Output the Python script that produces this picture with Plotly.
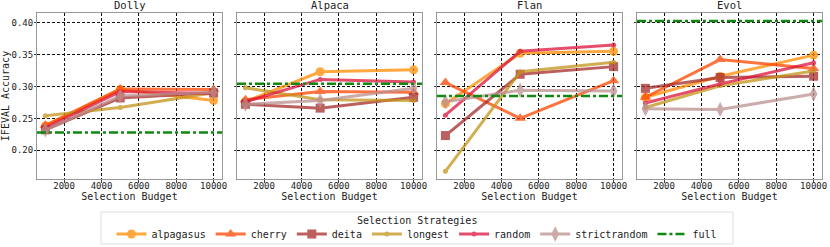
import plotly.graph_objects as go
from plotly.subplots import make_subplots

datasets = ["Dolly", "Alpaca", "Flan", "Evol"]
budgets = [1000, 5000, 10000]
xtick_vals = [2000, 4000, 6000, 8000, 10000]
xtick_text = ["2000", "4000", "6000", "8000", "10000"]
ytick_vals = [0.20, 0.25, 0.30, 0.35, 0.40]

strategies = ["alpagasus", "cherry", "deita", "longest", "random", "strictrandom"]

alpagasus = {"Dolly": [0.238, 0.295, 0.278], "Alpaca": [0.276, 0.323, 0.326],
             "Flan": [0.273, 0.352, 0.355], "Evol": [0.283, 0.316, 0.349]}
cherry = {"Dolly": [0.239, 0.296, 0.295], "Alpaca": [0.279, 0.292, 0.291],
          "Flan": [0.306, 0.250, 0.309], "Evol": [0.283, 0.342, 0.328]}
deita = {"Dolly": [0.232, 0.282, 0.290], "Alpaca": [0.272, 0.266, 0.283],
         "Flan": [0.223, 0.319, 0.331], "Evol": [0.297, 0.314, 0.316]}
longest = {"Dolly": [0.254, 0.267, 0.290], "Alpaca": [0.298, 0.279, 0.278],
           "Flan": [0.167, 0.323, 0.338], "Evol": [0.267, 0.301, 0.324]}
random_ = {"Dolly": [0.235, 0.292, 0.289], "Alpaca": [0.276, 0.311, 0.307],
           "Flan": [0.255, 0.355, 0.365], "Evol": [0.274, 0.304, 0.337]}
strictrandom = {"Dolly": [0.232, 0.285, 0.291], "Alpaca": [0.272, 0.278, 0.297],
                "Flan": [0.276, 0.294, 0.293], "Evol": [0.265, 0.264, 0.288]}
full = {"Dolly": 0.228, "Alpaca": 0.304, "Flan": 0.285, "Evol": 0.4025}

series = {"alpagasus": alpagasus, "cherry": cherry, "deita": deita,
          "longest": longest, "random": random_, "strictrandom": strictrandom}

colors = {"alpagasus": "#FF8C00", "cherry": "#FF4500", "deita": "#A52A2A",
          "longest": "#C4931A", "random": "#DC143C", "strictrandom": "#BC8F8F"}
symbols = {"alpagasus": "circle", "cherry": "triangle-up", "deita": "square",
           "longest": "circle", "random": "circle", "strictrandom": "diamond-tall"}
msizes = {"alpagasus": 9, "cherry": 10, "deita": 9, "longest": 5, "random": 5,
          "strictrandom": 11}

FONT = "DejaVu Sans Mono"
X0, X1 = 550, 10450
GRIDDASH = "3px,2px"

fig = make_subplots(rows=1, cols=4, shared_yaxes=True,
                    horizontal_spacing=15 / 785, subplot_titles=datasets)

for ci, ds in enumerate(datasets, start=1):
    for s in strategies:
        fig.add_trace(go.Scatter(
            x=budgets, y=series[s][ds], mode="lines+markers", name=s,
            legendgroup=s, showlegend=(ci == 1), opacity=0.75,
            line=dict(color=colors[s], width=3),
            marker=dict(symbol=symbols[s], size=msizes[s], color=colors[s]),
        ), row=1, col=ci)
    fig.add_trace(go.Scatter(
        x=[X0, X1], y=[full[ds], full[ds]], mode="lines", name="full",
        legendgroup="full", showlegend=(ci == 1),
        line=dict(color="#118811", width=2.5, dash="dashdot"),
    ), row=1, col=ci)

for ci in range(1, 5):
    fig.update_xaxes(range=[X0, X1], tickvals=xtick_vals, ticktext=xtick_text,
                     showgrid=True, gridcolor="#111", griddash=GRIDDASH, gridwidth=0.9,
                     showline=True, linecolor="#999", mirror=True, zeroline=False,
                     ticks="outside", ticklen=3, tickcolor="#444", tickwidth=0.8,
                     ticklabelstandoff=-5, automargin=False,
                     tickfont=dict(family=FONT, size=9, color="#222"),
                     title=dict(text="Selection Budget", standoff=0,
                                font=dict(family=FONT, size=10, color="#222")),
                     row=1, col=ci)
    fig.update_yaxes(range=[0.155, 0.415], tickvals=ytick_vals,
                     tickformat=".2f", showgrid=True, gridcolor="#111",
                     griddash=GRIDDASH, gridwidth=0.9, showline=True, linecolor="#999",
                     mirror=True, zeroline=False, ticks="outside", ticklen=2,
                     tickcolor="#444", tickwidth=0.8, ticklabelstandoff=-1,
                     automargin=False,
                     tickfont=dict(family=FONT, size=9, color="#222"),
                     row=1, col=ci)
fig.update_yaxes(title=dict(text="IFEVAL Accuracy", standoff=3,
                            font=dict(family=FONT, size=10, color="#222")),
                 row=1, col=1)

for ann in fig.layout.annotations:
    ann.font = dict(family=FONT, size=10.5, color="#222")
    ann.yshift = 0

# legend frame and title (drawn in paper coordinates)
PH = 166.0
def py(px):
    return (179 - px) / PH
def px_(x):
    return (x - 37) / 785.0

fig.add_shape(type="rect", xref="paper", yref="paper",
              x0=px_(101), x1=px_(733), y0=py(244), y1=py(212),
              line=dict(color="#dddddd", width=1), fillcolor="white", layer="below")
fig.add_annotation(text="Selection Strategies", xref="paper", yref="paper",
                   x=px_(417), y=py(220), yanchor="middle", showarrow=False,
                   font=dict(family=FONT, size=10, color="#222"))

fig.update_layout(
    width=830, height=247,
    margin=dict(l=37, r=8, t=13, b=68, autoexpand=False),
    plot_bgcolor="white", paper_bgcolor="white",
    font=dict(family=FONT, size=10, color="#222"),
    legend=dict(orientation="h", x=px_(417), xanchor="center", y=py(234),
                yanchor="middle", bgcolor="rgba(0,0,0,0)", borderwidth=0,
                font=dict(family=FONT, size=10, color="#222"), itemwidth=30,
                tracegroupgap=0),
)

fig.write_html("out.html", config={"displayModeBar": False},
               post_script="document.body.style.margin='0';document.body.style.overflow='hidden';")
